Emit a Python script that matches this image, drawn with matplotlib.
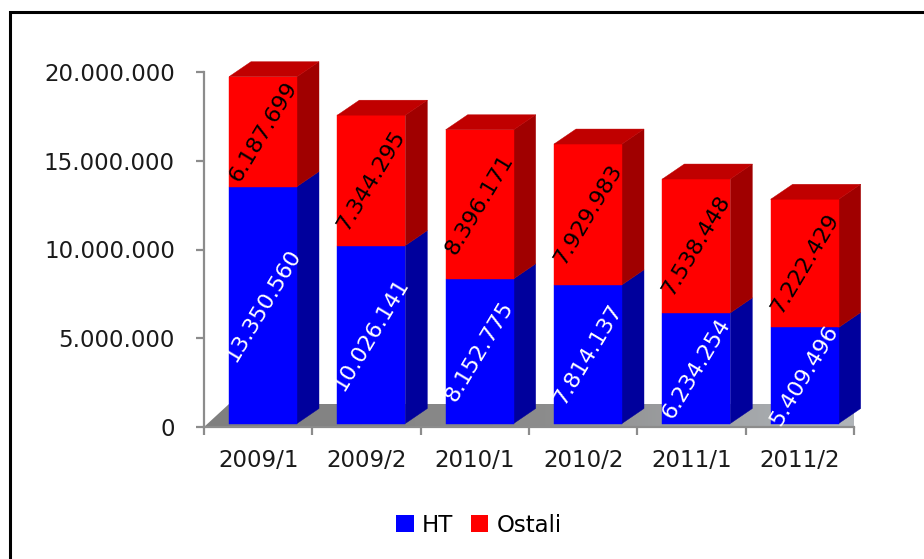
import numpy as np
import matplotlib
matplotlib.use('Agg')
import matplotlib.pyplot as plt
from matplotlib.lines import Line2D
from matplotlib.patches import Polygon, Rectangle

W, H = 924, 559

categories = ["2009/1", "2009/2", "2010/1", "2010/2", "2011/1", "2011/2"]
ht = [13350560, 10026141, 8152775, 7814137, 6234254, 5409496]
ostali = [6187699, 7344295, 8396171, 7929983, 7538448, 7222429]
y_ticks = [0, 5000000, 10000000, 15000000, 20000000]


def fmt(v):
    return f"{v:,}".replace(",", ".")


plt.rcParams['font.family'] = ['DejaVu Sans']

fig = plt.figure(figsize=(W / 100, H / 100), dpi=100)
fig.patch.set_facecolor('white')

# only top and left border, both run off the picture
fig.add_artist(Line2D([9.5 / W, 9.5 / W, 1], [0, 1 - 11.5 / H, 1 - 11.5 / H], transform=fig.transFigure,
                      color='black', lw=2.2, solid_joinstyle='miter'))

# axes box follows the plot area in pixels
ax = fig.add_axes([204 / W, 1 - 427 / H, 650 / W, 355 / H])
ax.set_xlim(0, 6)
ax.set_ylim(0, 20000000)
ax.patch.set_visible(False)

px = 6 / 650  # one pixel in x data units
py = 20000000 / 355  # one pixel in y data units
dx, dy = 22 * px, 15 * py  # depth of the bars
lift = 3.5 * py
bar_w = 68 * px

# floor, gradient clipped to a polygon
floor_dx, floor_dy = 34 * px, 23 * py
floor = Polygon([(0, 0), (6, 0), (6 + floor_dx, floor_dy), (25 * px, floor_dy)], closed=True,
                transform=ax.transData, fc='none', ec='none', clip_on=False)
ax.add_patch(floor)
grad = np.linspace(0, 1, 256).reshape(1, -1)
cmap = matplotlib.colors.LinearSegmentedColormap.from_list('fl', ['#7f7f7f', '#8c8c8c', '#b4b9be'])
im = ax.imshow(grad, extent=(0, 6 + floor_dx, 0, floor_dy), aspect='auto', cmap=cmap, zorder=1)
im.set_clip_path(floor)
ax.set_xlim(0, 6)
ax.set_ylim(0, 20000000)


def box(x, y0, y1, front, side, top=None, z=2):
    ax.add_patch(Polygon([(x + bar_w, y0), (x + bar_w + dx, y0 + dy), (x + bar_w + dx, y1 + dy), (x + bar_w, y1)],
                         fc=side, ec=side, lw=0.3, zorder=z, clip_on=False))
    ax.add_patch(Rectangle((x, y0), bar_w, y1 - y0, fc=front, ec=front, lw=0.3, zorder=z + 0.1, clip_on=False))
    if top:
        ax.add_patch(Polygon([(x, y1), (x + dx, y1 + dy), (x + bar_w + dx, y1 + dy), (x + bar_w, y1)],
                             fc=top, ec=top, lw=0.3, zorder=z + 0.1, clip_on=False))


for i in range(len(categories)):
    x = i + 25 * px
    box(x, lift, ht[i] + lift, '#0000ff', '#00009c', z=2)
    box(x, ht[i] + lift, ht[i] + ostali[i] + lift, '#ff0000', '#a00000', top='#c00000', z=2.5)
    cx = x + bar_w / 2
    ax.text(cx, ht[i] / 2 + lift, fmt(ht[i]), color='white', fontsize=16, rotation=59,
            ha='center', va='center', rotation_mode='anchor', zorder=4, clip_on=False)
    ax.text(cx, ht[i] + ostali[i] / 2 + lift, fmt(ostali[i]), color='black', fontsize=16, rotation=59,
            ha='center', va='center', rotation_mode='anchor', zorder=4, clip_on=False)

for s in ['top', 'right']:
    ax.spines[s].set_visible(False)
for s in ['left', 'bottom']:
    ax.spines[s].set_color('#8c8c8c')
    ax.spines[s].set_linewidth(1.6)
    ax.spines[s].set_zorder(3)

ax.set_yticks(y_ticks)
ax.set_yticklabels([fmt(v) for v in y_ticks], fontsize=16.5, color='#1a1a1a')
ax.set_xticks(range(7))
ax.set_xticklabels([])
ax.set_xticks([i + 0.5 for i in range(6)], minor=True)
ax.set_xticklabels(categories, minor=True, fontsize=16.5, color='#1a1a1a')
ax.tick_params(axis='x', which='major', length=6, width=1.6, color='#8c8c8c')
ax.tick_params(axis='x', which='minor', length=0, pad=16)
ax.tick_params(axis='y', length=6, width=1.6, color='#8c8c8c', pad=15)

# legend
h = [Rectangle((0, 0), 1, 1, fc='#0000ff'), Rectangle((0, 0), 1, 1, fc='#ff0000')]
fig.legend(h, ["HT", "Ostali"], loc='center', bbox_to_anchor=(479 / W, 1 - 525 / H), ncol=2, frameon=False,
           fontsize=16.5, handlelength=0.75, handleheight=0.75, handletextpad=0.35, columnspacing=0.8)

fig.savefig('out.png', dpi=100)
